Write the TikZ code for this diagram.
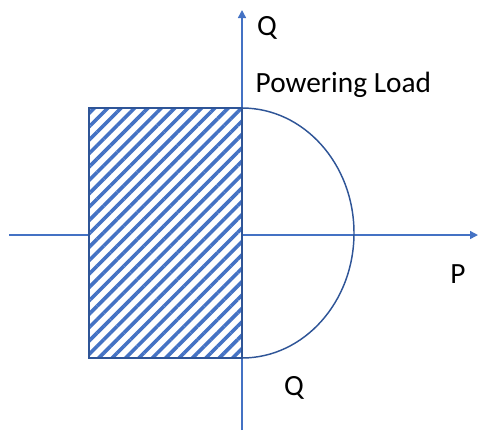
\documentclass[tikz,border=0pt]{standalone}
\usepackage{fontspec}
\setmainfont{Carlito}
\usetikzlibrary{arrows.meta,patterns.meta}
\definecolor{axisblue}{HTML}{4472C4}
\definecolor{edgeblue}{HTML}{2F5597}
\begin{document}
\begin{tikzpicture}[
    x=0.75pt, y=-0.75pt,
    >={Triangle[length=6pt,width=6pt]},
    every node/.style={font=\fontsize{22}{26}\selectfont},
    axis/.style={
        draw=axisblue,
        line width=1.1pt,
        ->
    },
    region/.style={
        draw=edgeblue,
        line width=1.4pt,
        preaction={fill=white},
        pattern={Lines[angle=45,distance=7.1pt,line width=2.7pt]},
        pattern color=axisblue
    },
    limit/.style={
        draw=edgeblue,
        line width=1.1pt
    }
]
    \useasboundingbox (0,0) rectangle (478,430);

    % Axes
    \coordinate (origin) at (242,235);
    \coordinate (pstart) at (9,235);
    \coordinate (pend) at (478,235);
    \coordinate (qstart) at (242,430);
    \coordinate (qend) at (242,10);

    \draw[axis] (pstart) -- (pend);
    \draw[axis] (qstart) -- (qend);

    % Hatched operating area
    \draw[region] (89,108) rectangle (242,358);

    % Powering load boundary
    \coordinate (arctop) at (242,108);
    \draw[limit] (arctop)
        arc[start angle=-90, end angle=90, x radius=112, y radius=125];

    % Labels
    \node (qtop) at (267,28) {Q};
    \node[anchor=west] (load) at (251,85) {Powering Load};
    \node (plabel) at (458,274) {P};
    \node (qbottom) at (294,388) {Q};

\end{tikzpicture}
\end{document}
